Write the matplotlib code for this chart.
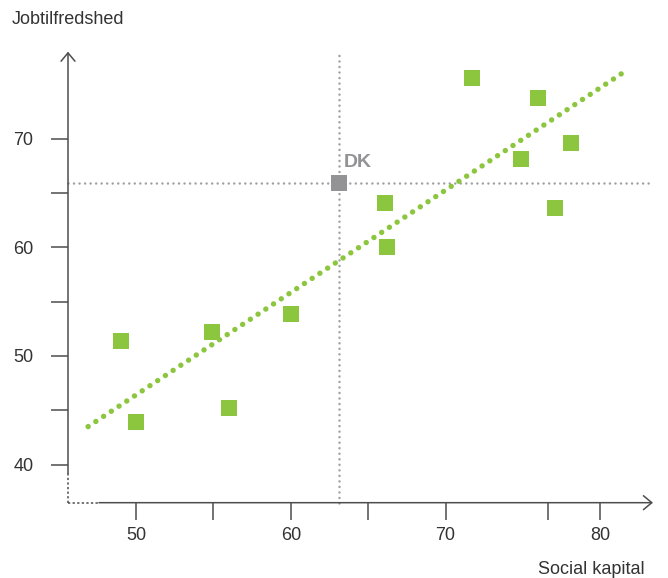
import matplotlib.pyplot as plt

plt.rcParams['font.family'] = ['Liberation Sans', 'DejaVu Sans']

# countries (social capital, job satisfaction)
social_kapital = [49.0, 50.0, 54.9, 56.0, 60.0, 66.1, 66.2, 71.7, 74.9, 76.0, 77.1, 78.1]
jobtilfredshed = [51.4, 43.9, 52.2, 45.2, 53.85, 64.1, 60.05, 75.6, 68.1, 73.7, 63.6, 69.6]

dk_x = 63.1
dk_y = 65.9

# trend line end points
trend_x = [46.9, 81.5]
trend_y = [43.5, 76.1]

x_major = [50, 60, 70, 80]
x_minor = [55, 65, 76.6]
y_major = [40, 50, 60, 70]
y_minor = [45, 55, 65]

green = '#8cc63f'
grey = '#939396'
axis_col = '#4d4d4d'
text_col = '#333333'

fig = plt.figure(figsize=(6.68, 5.78), dpi=100)
ax = fig.add_axes([0.1018, 0.1303, 0.8757, 0.7803])

x0, x1 = 45.6, 83.4
y0, y1 = 36.5, 78.0
ax.set_xlim(x0, x1)
ax.set_ylim(y0, y1)

for s in ax.spines.values():
    s.set_visible(False)

# axes drawn by hand: solid part + dotted stub near origin
ax.plot([x0, 47.6], [y0, y0], color=axis_col, lw=1.1, ls=(0, (1.5, 1.5)), clip_on=False)
ax.plot([x0, x0], [y0, 39.2], color=axis_col, lw=1.1, ls=(0, (1.5, 1.5)), clip_on=False)
arrow = dict(arrowstyle='->,head_length=0.6,head_width=0.5', color=axis_col, lw=1.1,
             shrinkA=0, shrinkB=0)
ax.annotate('', xy=(x1, y0), xytext=(47.6, y0), arrowprops=arrow, annotation_clip=False)
ax.annotate('', xy=(x0, y1), xytext=(x0, 39.2), arrowprops=arrow, annotation_clip=False)

# DK reference lines
ref_style = dict(color='#a0a0a3', lw=1.8, ls=(0, (0.01, 2.2)), dash_capstyle='round',
                 clip_on=False, zorder=2)
ax.plot([dk_x, dk_x], [y0, 78.1], **ref_style)
ax.plot([x0, 83.3], [dk_y, dk_y], **ref_style)

# trend line
ax.plot(trend_x, trend_y, color=green, lw=3.9, ls=(0, (0.01, 1.7)),
        dash_capstyle='round', clip_on=False, zorder=3)

ax.plot(social_kapital, jobtilfredshed, 's', color=green, markersize=11.5,
        markeredgewidth=0, zorder=4)
ax.plot([dk_x], [dk_y], 's', color=grey, markersize=11.5, markeredgewidth=0, zorder=4)
ax.text(63.45, 67.8, 'DK', color=grey, fontsize=14, fontweight='bold',
        ha='left', va='center')

ax.set_xticks(x_major)
ax.set_xticks(x_minor, minor=True)
ax.set_yticks(y_major)
ax.set_yticks(y_minor, minor=True)
ax.tick_params(which='both', length=12.5, width=1.1, color=axis_col, direction='out')
ax.tick_params(axis='x', pad=5, labelsize=13, labelcolor=text_col)
ax.tick_params(axis='y', pad=12.5, labelsize=13, labelcolor=text_col)

fig.text(12 / 668, 1 - 19 / 578, 'Jobtilfredshed', fontsize=13, color=text_col,
         ha='left', va='center')
fig.text(645 / 668, 1 - 570 / 578, 'Social kapital', fontsize=13, color=text_col,
         ha='right', va='center')

fig.savefig('out.png', dpi=100)
